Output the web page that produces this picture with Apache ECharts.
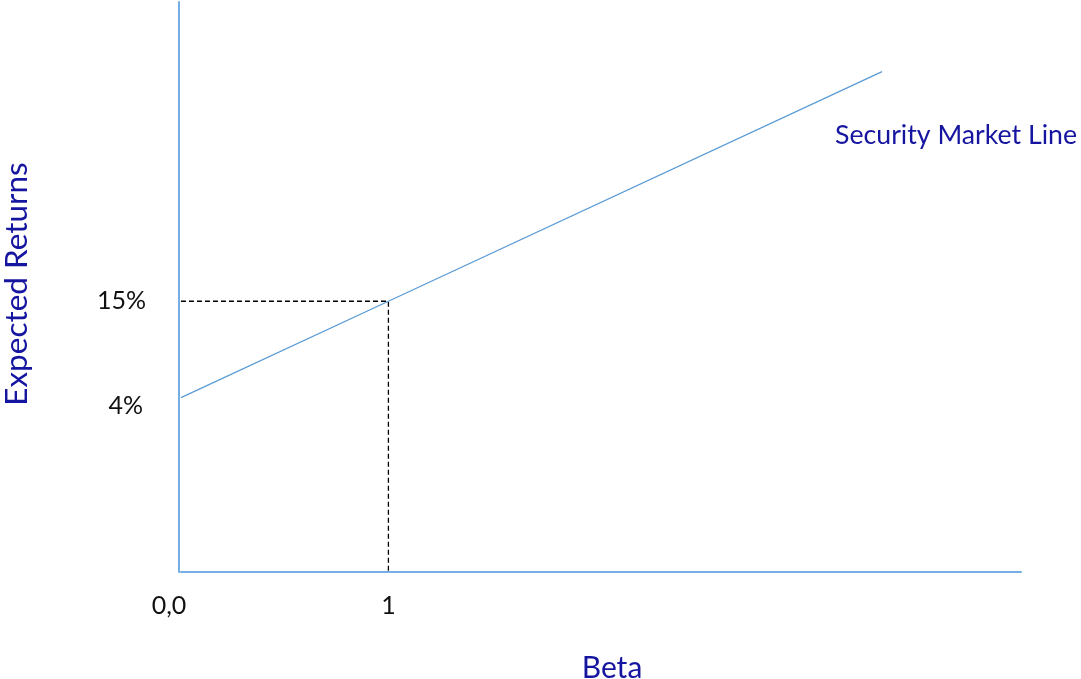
<!DOCTYPE html>
<html>
<head>
<meta charset="utf-8">
<script src="https://cdn.jsdelivr.net/npm/echarts@6/dist/echarts.min.js"></script>
<style>
  html, body { margin: 0; padding: 0; background: #ffffff; }
  #chart { width: 1081px; height: 679px; }
</style>
</head>
<body>
<div id="chart"></div>
<script>
// Security Market Line: E(R) = 4% + 11% * beta
const betas = [0, 1, 3.38];
const expectedReturns = [4, 15, 41.2];

// Reference point at beta = 1
const refBeta = 1;
const refReturn = 15;

// Axis tick labels
const xTickValues = [0, 1];
const xTickLabels = ['0,0', '1'];
const yTickValues = [4, 15];
const yTickLabels = ['4%', '15%'];

const xMin = 0, xMax = 4.05;
const yMin = -15.9, yMax = 49.15;

const FONT = 'Lato';
const BLUE_TEXT = '#1515a0';
const AXIS_BLUE = '#74aee3';
const LINE_BLUE = '#5b9bd5';
const TICK_COLOR = '#111111';

const smlData = betas.map((b, i) => [b, expectedReturns[i]]);
const guideData = [[xMin, refReturn], [refBeta, refReturn], [refBeta, yMin]];

const chart = echarts.init(document.getElementById('chart'), null, { renderer: 'canvas' });

chart.setOption({
  animation: false,
  backgroundColor: '#ffffff',
  grid: {
    left: 181, right: 60, top: 2, bottom: 107,
    containLabel: false,
    outerBoundsMode: 'none'
  },
  xAxis: {
    type: 'value',
    min: xMin,
    max: xMax,
    name: 'Beta',
    nameLocation: 'middle',
    nameGap: 81,
    nameTextStyle: { color: BLUE_TEXT, fontFamily: FONT, fontSize: 30, padding: [0, 0, 0, 22] },
    splitLine: { show: false },
    axisTick: { show: false },
    axisLine: { show: true, onZero: false, lineStyle: { color: AXIS_BLUE, width: 2 } },
    axisLabel: {
      customValues: xTickValues,
      margin: 21,
      color: TICK_COLOR,
      fontFamily: FONT,
      fontSize: 25,
      formatter: function (v) {
        const i = xTickValues.indexOf(v);
        const t = i >= 0 ? xTickLabels[i] : '';
        return i === 0 ? '{z|' + t + '}' : '{n|' + t + '}';
      },
      rich: {
        z: { fontFamily: FONT, fontSize: 25, color: TICK_COLOR, padding: [0, 24, 0, 0] },
        n: { fontFamily: FONT, fontSize: 25, color: TICK_COLOR }
      }
    }
  },
  yAxis: {
    type: 'value',
    min: yMin,
    max: yMax,
    offset: 2,
    name: 'Expected Returns',
    nameLocation: 'middle',
    nameGap: 146,
    nameRotate: 90,
    nameTextStyle: { color: BLUE_TEXT, fontFamily: FONT, fontSize: 31.5, padding: [0, 0, 0, 6] },
    splitLine: { show: false },
    axisTick: { show: false },
    axisLine: { show: true, onZero: false, lineStyle: { color: AXIS_BLUE, width: 2 } },
    axisLabel: {
      customValues: yTickValues,
      margin: 33,
      color: TICK_COLOR,
      fontFamily: FONT,
      fontSize: 25,
      formatter: function (v) {
        const i = yTickValues.indexOf(v);
        const t = i >= 0 ? yTickLabels[i] : '';
        return i === 0 ? '{lo|' + t + '}' : '{hi|' + t + '}';
      },
      rich: {
        lo: { fontFamily: FONT, fontSize: 25, color: TICK_COLOR, padding: [17, 3, 0, 0] },
        hi: { fontFamily: FONT, fontSize: 25, color: TICK_COLOR }
      }
    }
  },
  series: [
    {
      name: 'Security Market Line',
      type: 'line',
      data: smlData,
      symbol: 'none',
      lineStyle: { color: LINE_BLUE, width: 1.3 },
      endLabel: {
        show: true,
        formatter: '{a}',
        color: BLUE_TEXT,
        fontFamily: FONT,
        fontSize: 26.7,
        align: 'left',
        offset: [-55, 64]
      },
      z: 3
    },
    {
      name: 'guide',
      type: 'line',
      data: guideData,
      symbol: 'none',
      lineStyle: { color: '#000000', width: 1.3, type: [5, 3] },
      z: 2
    }
  ]
});
</script>
</body>
</html>
